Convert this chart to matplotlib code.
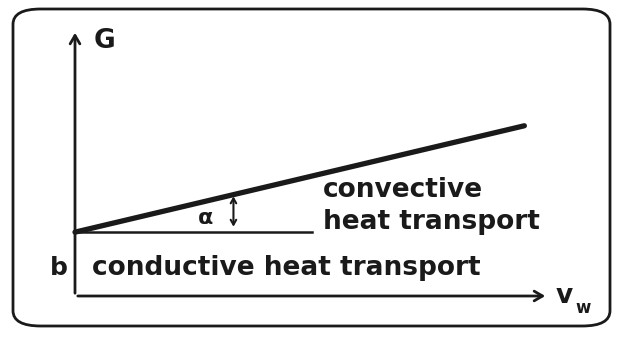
import matplotlib.pyplot as plt
from matplotlib.patches import FancyBboxPatch

# Heat transfer coefficient G against water velocity v_w
b = 0.24          # conductive part (intercept)
vw = [0.0, 0.95]  # velocity range of the drawn line
G = [b, 0.64]     # total transfer: conductive + convective
conductive_end = 0.50

fig = plt.figure(figsize=(6.17, 3.39), dpi=100)
fig.patch.set_facecolor("white")

# rounded outer frame
frame = FancyBboxPatch((13 / 617, 1 - 326 / 339), (610 - 13) / 617, (326 - 9) / 339,
                       boxstyle="round,pad=0,rounding_size=0.045",
                       transform=fig.transFigure, fill=False, lw=2.0, ec="#1a1a1a")
fig.patches.append(frame)

ax = fig.add_axes([75 / 617, 1 - 296 / 339, (548 - 75) / 617, (296 - 30) / 339])
ax.set_xlim(0, 1)
ax.set_ylim(0, 1)
ax.axis("off")

ink = "#1a1a1a"
font = dict(family="DejaVu Sans", fontweight="bold", color=ink)

# axes with arrow heads
ax.annotate("", xy=(0, 1), xytext=(0, 0),
            arrowprops=dict(arrowstyle="->,head_length=0.6,head_width=0.35", lw=2.0, color=ink))
ax.annotate("", xy=(1, 0), xytext=(0, 0),
            arrowprops=dict(arrowstyle="->,head_length=0.6,head_width=0.35", lw=2.0, color=ink))

# total and conductive lines
ax.plot(vw, G, color=ink, lw=3.8, solid_capstyle="round", clip_on=False)
ax.plot([0, conductive_end], [b, b], color=ink, lw=1.8, clip_on=False)

# angle marker
ax.annotate("", xy=(0.335, b + 0.01), xytext=(0.335, 0.385),
            arrowprops=dict(arrowstyle="<->,head_length=0.35,head_width=0.2", lw=1.5, color=ink))
ax.text(0.275, 0.295, "α", fontsize=16, ha="center", va="center", **font)

ax.text(0.04, 0.96, "G", fontsize=19, ha="left", va="center", **font)
ax.text(1.015, 0.0, "v", fontsize=19, ha="left", va="center", **font)
ax.text(1.058, -0.045, "w", fontsize=12, ha="left", va="center", **font)
ax.text(-0.035, 0.105, "b", fontsize=18, ha="center", va="center", **font)

ax.text(0.035, 0.105, "conductive heat transport", fontsize=19, ha="left", va="center", **font)
ax.text(0.525, 0.40, "convective", fontsize=19, ha="left", va="center", **font)
ax.text(0.525, 0.278, "heat transport", fontsize=19, ha="left", va="center", **font)

fig.savefig("out.png", dpi=100)
